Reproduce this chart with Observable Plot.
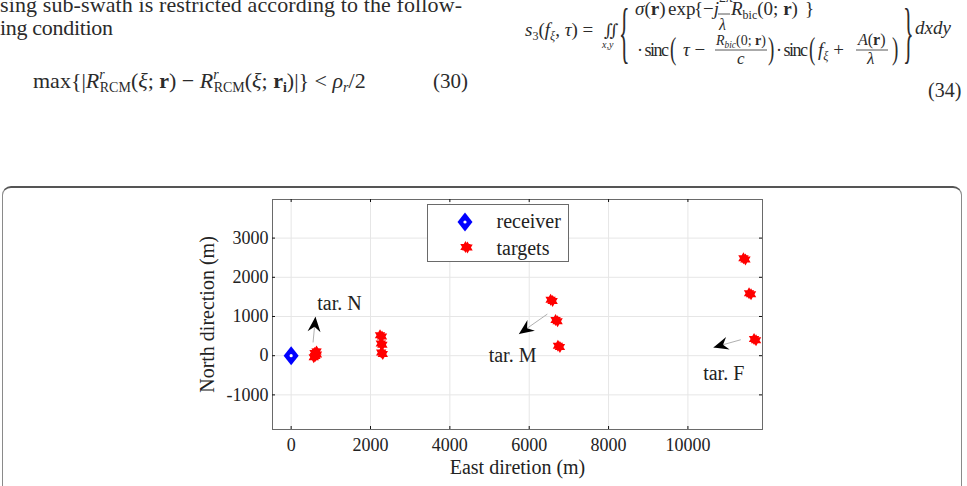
<!DOCTYPE html>
<html>
<head>
<meta charset="utf-8">
<script src="https://cdn.jsdelivr.net/npm/d3@7"></script>
<script src="https://cdn.jsdelivr.net/npm/@observablehq/plot@0.6"></script>
<style>
  html, body { margin: 0; padding: 0; background: #fff; }
  body { position: relative; width: 967px; height: 486px; overflow: hidden; }
  #page { position: absolute; left: 0; top: 0; }
  #page text, #chart text { font-family: "Liberation Serif", "Times New Roman", serif !important; }
  #page text.sym { font-family: "DejaVu Serif", serif !important; }
  #box { position: absolute; left: 2px; top: 186px; width: 958px; height: 330px;
         border: 1.5px solid #8a8a8a; border-top: 2px solid #555; border-radius: 9px; }
  #chart { position: absolute; left: 0; top: 186px; }
  #legend { position: absolute; left: 0; top: 0; }
</style>
</head>
<body>
<svg id="page" width="967" height="186"></svg>
<div id="box"></div>
<div id="chart"></div>
<script>
// ---- data -------------------------------------------------------------
const xTicks = [0, 2000, 4000, 6000, 8000, 10000];
const yTicks = [-1000, 0, 1000, 2000, 3000];

const receiverEast = [0];
const receiverNorth = [0];

// scatterer positions of the near group and the three target groups (m)
const targetEast = [
  570, 610, 650, 590, 640, 600,
  2240, 2290, 2260, 2300, 2270, 2310,
  6540, 6590, 6665, 6715, 6724, 6774,
  11400, 11450, 11541, 11591, 11667, 11717
];
const targetNorth = [
  -40, 0, 30, 70, 110, -10,
  520, 490, 310, 280, 80, 45,
  1425, 1395, 908, 878, 254, 224,
  2486, 2456, 1595, 1565, 425, 395
];

const tagNames = ["tar. N", "tar. M", "tar. F"];
const tagEast = [1218, 5581, 10903];
const tagNorth = [1336, 0, -445];
const arrowFromEast = [552, 6457, 11332];
const arrowFromNorth = [338, 1061, 407];
const arrowToEast = [613, 5740, 10643];
const arrowToNorth = [992, 552, 211];

const legendNames = ["receiver", "targets"];
const xLabel = "East diretion (m)";
const yLabel = "North direction (m)";

// ---- layout -----------------------------------------------------------
const W = 967, H = 300;
const mTop = 13, mRight = 205, mBottom = 57, mLeft = 272;
const xDomain = [-470, 11880];
const yDomain = [-1883, 3985];
const innerW = W - mLeft - mRight, innerH = H - mTop - mBottom;
const sx = d3.scaleLinear(xDomain, [mLeft, W - mRight]);
const sy = d3.scaleLinear(yDomain, [H - mBottom, mTop]);

const targets = targetEast.map((e, i) => ({east: e, north: targetNorth[i]}));
const receiver = receiverEast.map((e, i) => ({east: e, north: receiverNorth[i]}));
const tags = tagNames.map((name, i) => ({
  name, east: tagEast[i], north: tagNorth[i],
  x1: arrowFromEast[i], y1: arrowFromNorth[i], x2: arrowToEast[i], y2: arrowToNorth[i]
}));

// ---- marker shapes -----------------------------------------------------
const hexagram = {
  draw(ctx, size) {
    const R = Math.sqrt(size / Math.PI), r = R * 0.58;
    for (let i = 0; i < 12; i++) {
      const a = -Math.PI / 2 + i * Math.PI / 6, rr = i % 2 ? r : R;
      const px = rr * Math.cos(a), py = rr * Math.sin(a);
      i ? ctx.lineTo(px, py) : ctx.moveTo(px, py);
    }
    ctx.closePath();
  }
};
const tallDiamond = {
  draw(ctx, size) {
    const r = Math.sqrt(size / Math.PI);
    ctx.moveTo(0, -r * 1.27); ctx.lineTo(r, 0); ctx.lineTo(0, r * 1.27); ctx.lineTo(-r, 0); ctx.closePath();
  }
};
const arrowHead = {
  // tip at the origin, pointing up
  draw(ctx) {
    ctx.moveTo(0, 0); ctx.lineTo(6.5, 15); ctx.lineTo(0, 10); ctx.lineTo(-6.5, 15); ctx.closePath();
  }
};
const headAngle = d => {
  const dx = sx(d.x2) - sx(d.x1), dy = sy(d.y2) - sy(d.y1);
  return Math.atan2(dx, -dy) * 180 / Math.PI;
};

const serif = "Liberation Serif, Times New Roman, serif";

const chart = Plot.plot({
  width: W, height: H,
  marginTop: mTop, marginRight: mRight, marginBottom: mBottom, marginLeft: mLeft,
  x: {domain: xDomain},
  y: {domain: yDomain},
  style: {fontFamily: serif, background: "transparent", color: "#222", overflow: "visible"},
  marks: [
    Plot.gridX(xTicks, {stroke: "#e6e6e6", strokeOpacity: 1}),
    Plot.gridY(yTicks, {stroke: "#e6e6e6", strokeOpacity: 1}),
    Plot.frame({stroke: "#6a6a6a"}),
    // inward tick marks on all four sides
    Plot.tickX(xTicks, {x: d => d, insetTop: innerH - 3, stroke: "#111"}),
    Plot.tickX(xTicks, {x: d => d, insetBottom: innerH - 3, stroke: "#111"}),
    Plot.tickY(yTicks, {y: d => d, insetRight: innerW - 3, stroke: "#111"}),
    Plot.tickY(yTicks, {y: d => d, insetLeft: innerW - 3, stroke: "#111"}),
    Plot.axisX(xTicks, {tickSize: 0, tickPadding: 9, fontSize: 18, fontFamily: serif, label: null, tickFormat: d => String(d)}),
    Plot.axisY(yTicks, {tickSize: 0, tickPadding: 4, fontSize: 18, fontFamily: serif, label: null, tickFormat: d => String(d)}),
    Plot.text([xLabel], {frameAnchor: "bottom", dy: 44, text: d => d, textAnchor: "middle", fontSize: 20, fontFamily: serif, fill: "#222"}),
    Plot.text([yLabel], {frameAnchor: "left", dx: -65, rotate: -90, text: d => d, textAnchor: "middle", fontSize: 20, fontFamily: serif, fill: "#222"}),
    // annotation arrows
    Plot.link(tags, {x1: "x1", y1: "y1", x2: "x2", y2: "y2", stroke: "#b0b0b0", strokeWidth: 1}),
    Plot.dot(tags, {x: "x2", y: "y2", symbol: arrowHead, rotate: headAngle, fill: "#000", stroke: "none"}),
    Plot.text(tags, {x: "east", y: "north", text: "name", fontSize: 20, fontFamily: serif, fill: "#222"}),
    // targets and receiver
    Plot.dot(targets, {x: "east", y: "north", symbol: hexagram, r: 6, fill: "#ff0000", stroke: "none"}),
    Plot.dot(receiver, {x: "east", y: "north", symbol: tallDiamond, r: 7.5, fill: "#0000ff", stroke: "none"}),
    Plot.dot(receiver, {x: "east", y: "north", r: 1.6, fill: "#fff", stroke: "none"})
  ]
});
document.getElementById("chart").appendChild(chart);

// ---- legend ------------------------------------------------------------
const legend = d3.select("#chart").append("svg")
  .attr("id", "legend").attr("width", W).attr("height", H);
const lg = legend.append("g").attr("transform", "translate(427.5,18.5)");
lg.append("rect").attr("width", 141).attr("height", 57)
  .attr("fill", "#fff").attr("stroke", "#6a6a6a").attr("stroke-width", 1);
lg.append("path").attr("transform", "translate(37.5,17.5)")
  .attr("d", d3.symbol(tallDiamond, Math.PI * 7.5 * 7.5)()).attr("fill", "#0000ff");
lg.append("circle").attr("cx", 37.5).attr("cy", 17.5).attr("r", 1.6).attr("fill", "#fff");
lg.append("path").attr("transform", "translate(38,42.5)")
  .attr("d", d3.symbol(hexagram, Math.PI * 36)()).attr("fill", "#ff0000");
lg.append("path").attr("transform", "translate(40,43)")
  .attr("d", d3.symbol(hexagram, Math.PI * 36)()).attr("fill", "#ff0000");
lg.selectAll("text.item").data(legendNames).join("text")
  .attr("class", "item").attr("x", 69).attr("y", (d, i) => 23 + i * 27)
  .attr("font-size", 20).attr("fill", "#222").text(d => d);

// ---- surrounding page text ----------------------------------------------
const page = document.getElementById("page");
page.innerHTML = `
<g fill="#2b2b2b">
  <text x="0" y="12" font-size="22" textLength="462" lengthAdjust="spacing">sing sub-swath is restricted according to the follow-</text>
  <text x="0" y="35" font-size="22" textLength="113" lengthAdjust="spacing">ing condition</text>

  <text x="33" y="88" font-size="22">max{|<tspan font-style="italic">R</tspan><tspan font-size="14" font-style="italic" dy="-9">r</tspan><tspan font-size="14" dx="-5" dy="13">RCM</tspan><tspan dy="-4">(</tspan><tspan font-style="italic">ξ</tspan>; <tspan font-weight="bold">r</tspan>) − <tspan font-style="italic">R</tspan><tspan font-size="14" font-style="italic" dy="-9">r</tspan><tspan font-size="14" dx="-5" dy="13">RCM</tspan><tspan dy="-4">(</tspan><tspan font-style="italic">ξ</tspan>; <tspan font-weight="bold">r</tspan><tspan font-size="14" font-weight="bold" dy="4">i</tspan><tspan dy="-4">)|} &lt; </tspan><tspan font-style="italic">ρ</tspan><tspan font-size="14" font-style="italic" dy="4">r</tspan><tspan dy="-4">/2</tspan></text>
  <text x="433" y="88" font-size="21">(30)</text>

  <text x="525" y="36" font-size="19"><tspan font-style="italic">s</tspan><tspan font-size="12" dy="4">3</tspan><tspan dy="-4">(</tspan><tspan font-style="italic">f</tspan><tspan font-size="12" font-style="italic" dy="4">ξ</tspan><tspan dy="-4">, </tspan><tspan font-style="italic">τ</tspan>) = </text>
  <text class="sym" x="604" y="36" font-size="17">∬</text>
  <text x="602" y="48" font-size="10" font-style="italic">x,y</text>
  <text transform="translate(619,55) scale(1,3.1)" font-size="22">{</text>
  <text transform="translate(903,55) scale(1,3.1)" font-size="22">}</text>

  <text x="635" y="15" font-size="19"><tspan font-style="italic">σ</tspan>(<tspan font-weight="bold">r</tspan>)</text>
  <text x="668" y="15" font-size="19">exp</text>
  <text x="694" y="15" font-size="19">{</text>
  <text x="703" y="15" font-size="19">−<tspan font-style="italic">j</tspan></text>
  <text x="719" y="2" font-size="14">2<tspan font-style="italic">π</tspan></text>
  <line x1="718" x2="730" y1="14" y2="14" stroke="#2b2b2b" stroke-width="0.8"/>
  <text x="719" y="30" font-size="16" font-style="italic">λ</text>
  <text x="731" y="15" font-size="19"><tspan font-style="italic">R</tspan><tspan font-size="12" dy="4">bic</tspan><tspan dy="-4">(0; </tspan><tspan font-weight="bold">r</tspan>)</text>
  <text x="805" y="15" font-size="19">}</text>

  <text x="637" y="56" font-size="18" textLength="32" lengthAdjust="spacing">· sinc</text>
  <text transform="translate(670,59) scale(1,1.7)" font-size="19">(</text>
  <text x="683" y="56" font-size="19"><tspan font-style="italic">τ</tspan> −</text>
  <text x="716" y="45" font-size="15" textLength="50" lengthAdjust="spacingAndGlyphs"><tspan font-style="italic">R</tspan><tspan font-size="10" font-style="italic" dy="3">bic</tspan><tspan dy="-3">(0; </tspan><tspan font-weight="bold">r</tspan>)</text>
  <line x1="715" x2="767" y1="50" y2="50" stroke="#2b2b2b" stroke-width="0.8"/>
  <text x="737" y="64" font-size="17" font-style="italic">c</text>
  <text transform="translate(768,59) scale(1,1.7)" font-size="19">)</text>
  <text x="776" y="56" font-size="18" textLength="32" lengthAdjust="spacing">· sinc</text>
  <text transform="translate(809,59) scale(1,1.7)" font-size="19">(</text>
  <text x="818" y="56" font-size="19"><tspan font-style="italic">f</tspan><tspan font-size="12" font-style="italic" dy="4">ξ</tspan><tspan dy="-4"> +</tspan></text>
  <text x="858" y="45" font-size="16"><tspan font-style="italic">A</tspan>(<tspan font-weight="bold">r</tspan>)</text>
  <line x1="856" x2="888" y1="50" y2="50" stroke="#2b2b2b" stroke-width="0.8"/>
  <text x="867" y="64" font-size="17" font-style="italic">λ</text>
  <text transform="translate(892,59) scale(1,1.7)" font-size="19">)</text>

  <text x="915" y="34" font-size="19" font-style="italic">dxdy</text>
  <text x="928" y="97" font-size="20">(34)</text>
</g>`;
</script>
</body>
</html>
